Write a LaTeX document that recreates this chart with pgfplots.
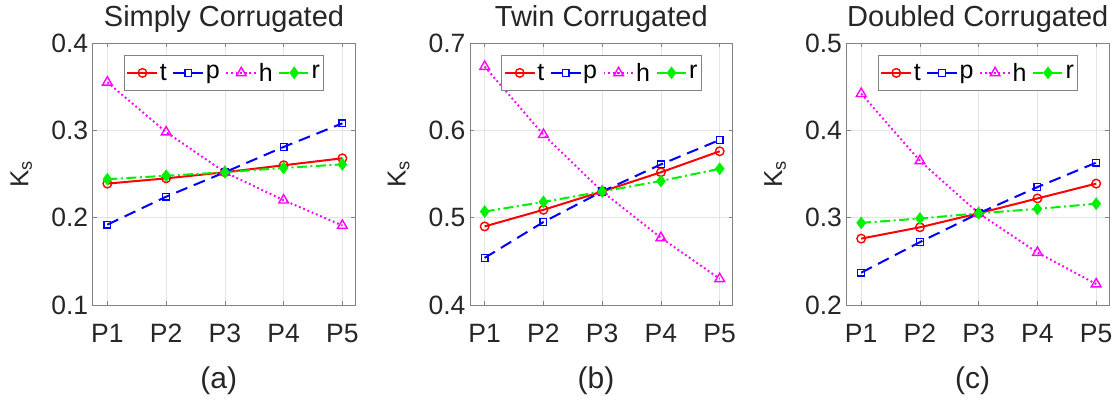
\documentclass[border=0pt]{standalone}
\usepackage{fontspec}
\setmainfont{Liberation Sans}
\usepackage{pgfplots}
\pgfplotsset{compat=1.18}

\definecolor{cT}{RGB}{255,0,0}
\definecolor{cP}{RGB}{0,0,255}
\definecolor{cH}{RGB}{255,0,255}
\definecolor{cR}{RGB}{0,240,0}
\definecolor{gridc}{RGB}{228,228,228}
\definecolor{axc}{RGB}{130,130,130}

\pgfplotsset{
  panel/.style={
    scale only axis, width=262.6pt, height=262pt, anchor=south west,
    xmin=0.75, xmax=5.22,
    xtick={1,2,3,4,5}, xticklabels={P1,P2,P3,P4,P5},
    grid=major, major grid style={gridc, line width=0.6pt},
    axis line style={axc, line width=0.8pt},
    tick align=inside, major tick length=4pt, tick style={axc, line width=0.6pt},
    /pgf/number format/assume math mode=true,
    /pgf/number format/.cd, fixed, fixed zerofill, precision=1, /pgfplots/.cd,
    ticklabel style={font=\fontsize{26.5}{26.5}\selectfont, text=black!85},
    xticklabel style={anchor=base, yshift=-38pt},
    yticklabel style={xshift=-1pt},
    title style={font=\fontsize{29}{29}\selectfont, anchor=base, at={(0.5,1)}, yshift=10pt, text=black!85},
    ylabel={K\textsubscript{s}},
    ylabel style={font=\fontsize{26}{26}\selectfont, at={(axis description cs:-0.272,0.5)}, anchor=center, text=black!85},
    xlabel style={font=\fontsize{30}{30}\selectfont, at={(axis description cs:0.48,-0.29)}, anchor=center, text=black!85},
    legend columns=4,
    legend image code/.code={\draw[mark repeat=2,mark phase=2,#1] plot coordinates {(0pt,0pt) (15pt,0pt) (30pt,0pt)};},
    legend style={at={(axis description cs:0.5,0.955)}, anchor=north, draw=axc, line width=0.6pt,
      fill=white, font=\fontsize{25}{25}\selectfont, inner xsep=2pt, inner ysep=4pt,
      nodes={inner xsep=1.5pt, inner ysep=4pt},
      /tikz/every even column/.append style={column sep=4pt}},
  },
  sT/.style={cT, line width=2pt, solid, mark=o, mark size=4.3pt, mark options={solid, line width=1.4pt}},
  sP/.style={cP, line width=2pt, dash pattern=on 12pt off 7pt, mark=square, mark size=3.4pt, mark options={solid, line width=1.3pt}},
  sH/.style={cH, line width=2pt, dash pattern=on 1.8pt off 2.8pt, mark=triangle, mark size=5.6pt, mark options={solid, line width=1.4pt}},
  sR/.style={cR, line width=2pt, dash pattern=on 10pt off 3.5pt on 2pt off 3.5pt, mark=diamond*, mark size=4.8pt, mark options={solid}},
}

\begin{document}
\begin{tikzpicture}
\useasboundingbox (0,0) rectangle (1115pt,398pt);

% (a) simply corrugated
\begin{axis}[panel, at={(92.7pt,93pt)}, ymin=0.1, ymax=0.4, ytick={0.1,0.2,0.3,0.4},
  title={Simply Corrugated}, xlabel={(a)}]
\addplot[sT] coordinates {(1,0.239) (2,0.245) (3,0.252) (4,0.260) (5,0.268)};
\addplot[sP] coordinates {(1,0.192) (2,0.224) (3,0.252) (4,0.281) (5,0.308)};
\addplot[sH] coordinates {(1,0.355) (2,0.298) (3,0.252) (4,0.220) (5,0.191)};
\addplot[sR] coordinates {(1,0.244) (2,0.248) (3,0.252) (4,0.257) (5,0.261)};
\legend{t,p,h,r}
\end{axis}

% (b) twin corrugated
\begin{axis}[panel, at={(470pt,93pt)}, ymin=0.4, ymax=0.7, ytick={0.4,0.5,0.6,0.7},
  title={Twin Corrugated}, xlabel={(b)}]
\addplot[sT] coordinates {(1,0.490) (2,0.509) (3,0.530) (4,0.552) (5,0.576)};
\addplot[sP] coordinates {(1,0.454) (2,0.495) (3,0.530) (4,0.561) (5,0.589)};
\addplot[sH] coordinates {(1,0.673) (2,0.595) (3,0.530) (4,0.477) (5,0.430)};
\addplot[sR] coordinates {(1,0.507) (2,0.518) (3,0.530) (4,0.542) (5,0.556)};
\legend{t,p,h,r}
\end{axis}

% (c) doubled corrugated
\begin{axis}[panel, at={(846.5pt,93pt)}, ymin=0.2, ymax=0.5, ytick={0.2,0.3,0.4,0.5},
  title={Doubled Corrugated}, xlabel={(c)}]
\addplot[sT] coordinates {(1,0.276) (2,0.289) (3,0.305) (4,0.322) (5,0.339)};
\addplot[sP] coordinates {(1,0.237) (2,0.272) (3,0.305) (4,0.335) (5,0.363)};
\addplot[sH] coordinates {(1,0.442) (2,0.365) (3,0.305) (4,0.260) (5,0.224)};
\addplot[sR] coordinates {(1,0.294) (2,0.299) (3,0.305) (4,0.310) (5,0.316)};
\legend{t,p,h,r}
\end{axis}
\end{tikzpicture}
\end{document}
